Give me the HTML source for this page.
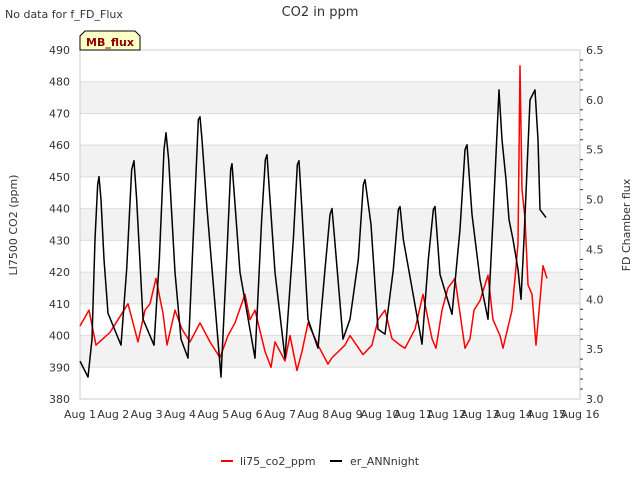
<!DOCTYPE html>
<html><head><meta charset="utf-8"><style>
body{margin:0;background:#fff;font-family:"Liberation Sans",sans-serif}
svg text{font-family:"DejaVu Sans","Liberation Sans",sans-serif;fill:#333}
</style></head><body>
<svg width="640" height="480" viewBox="0 0 640 480">
<text x="5" y="18" font-size="11">No data for f_FD_Flux</text>
<text x="320" y="16" font-size="13" text-anchor="middle" fill="#444">CO2 in ppm</text>
<g id="bands"></g>
<g id="grid"></g>
<rect x="80" y="50" width="500" height="349" fill="none" stroke="#ccc"/>
<g id="axes"></g>
<polyline id="red" fill="none" stroke="#f00" stroke-width="1.5" stroke-linejoin="round"/>
<polyline id="black" fill="none" stroke="#000" stroke-width="1.5" stroke-linejoin="round"/>
<g>
<path d="M80,50 L80,36 L85,31 L135,31 L140,36 L140,50 Z" fill="#ffffc8" stroke="#000" stroke-width="1"/>
<text x="110" y="46" font-size="11" font-weight="bold" text-anchor="middle" style="fill:#8b0000">MB_flux</text>
</g>
<text transform="translate(17,225) rotate(-90)" font-size="11" text-anchor="middle">LI7500 CO2 (ppm)</text>
<text transform="translate(630,225) rotate(-90)" font-size="11" text-anchor="middle">FD Chamber flux</text>
<g>
<line x1="221" y1="461" x2="233" y2="461" stroke="#f00" stroke-width="2"/>
<text x="240" y="465" font-size="11">li75_co2_ppm</text>
<line x1="330" y1="461" x2="342" y2="461" stroke="#000" stroke-width="2"/>
<text x="350" y="465" font-size="11">er_ANNnight</text>
</g>
</svg>
<script>
const xTickLabels=["Aug 1","Aug 2","Aug 3","Aug 4","Aug 5","Aug 6","Aug 7","Aug 8","Aug 9","Aug 10","Aug 11","Aug 12","Aug 13","Aug 14","Aug 15","Aug 16"];
const leftTicks=[380,390,400,410,420,430,440,450,460,470,480,490];
const rightTicks=["3.0","3.5","4.0","4.5","5.0","5.5","6.0","6.5"];
const redDays=[0,.27,.48,.9,1.14,1.44,1.74,1.95,2.1,2.28,2.49,2.61,2.85,3.06,3.3,3.6,3.9,4.2,4.44,4.65,4.95,5.1,5.25,5.55,5.73,5.85,6.15,6.3,6.51,6.66,6.84,7.14,7.44,7.56,7.95,8.1,8.49,8.76,8.94,9.15,9.36,9.6,9.75,10.05,10.29,10.56,10.68,10.86,11.04,11.25,11.55,11.7,11.82,12,12.24,12.39,12.6,12.69,12.78,12.96,13.05,13.14,13.2,13.26,13.35,13.44,13.56,13.68,13.74,13.89,14.01];
const redCO2=[403,408,397,401,405,410,398,408,410,418,407,397,408,402,398,404,398,393,400,404,413,405,408,395,390,398,392,400,389,395,404,397,391,393,397,400,394,397,405,408,399,397,396,402,413,399,396,408,415,418,396,399,408,411,419,405,400,396,400,408,418,429,485,446,437,416,413,397,404,422,418];
const blackDays=[0,.24,.36,.45,.53,.57,.63,.72,.84,1.23,1.4,1.55,1.62,1.7,1.89,2.22,2.38,2.52,2.58,2.66,2.85,3.03,3.24,3.42,3.55,3.6,3.66,3.81,4.23,4.4,4.52,4.56,4.64,4.8,5.25,5.45,5.56,5.61,5.68,5.85,6.15,6.4,6.52,6.57,6.64,6.84,7.14,7.35,7.5,7.56,7.64,7.89,8.1,8.35,8.5,8.55,8.73,8.94,9.15,9.4,9.55,9.6,9.7,10.26,10.45,10.6,10.65,10.8,11.16,11.4,11.55,11.61,11.76,12,12.24,12.39,12.57,12.66,12.78,12.87,12.99,13.14,13.23,13.32,13.5,13.65,13.74,13.8,13.98];
const blackFlux=[3.38,3.22,3.6,4.6,5.15,5.23,5.0,4.4,3.86,3.54,4.3,5.3,5.39,5.0,3.8,3.54,4.4,5.5,5.67,5.4,4.27,3.6,3.41,4.8,5.8,5.83,5.6,4.91,3.22,4.4,5.3,5.36,5.0,4.27,3.41,4.8,5.4,5.45,5.1,4.27,3.41,4.6,5.35,5.39,5.0,3.8,3.51,4.3,4.85,4.91,4.6,3.6,3.8,4.4,5.15,5.2,4.75,3.7,3.65,4.3,4.9,4.93,4.6,3.55,4.4,4.9,4.93,4.25,3.85,4.7,5.5,5.55,4.85,4.2,3.8,4.8,6.1,5.6,5.2,4.8,4.6,4.3,4.0,4.6,6.0,6.1,5.6,4.9,4.82];
const X0=80,X1=580,YT=50,YB=399;
const xs=d=>X0+d*(X1-X0)/15;
const yL=v=>YB-(v-380)*(YB-YT)/110;
const yR=v=>YB-(v-3)*(YB-YT)/3.5;
const NS="http://www.w3.org/2000/svg";
function mk(tag,attrs,parent){const e=document.createElementNS(NS,tag);for(const k in attrs)e.setAttribute(k,attrs[k]);document.getElementById(parent).appendChild(e);return e;}
[[470,480],[450,460],[430,440],[410,420],[390,400]].forEach(b=>{
const r=mk('rect',{x:X0,y:yL(b[1]),width:X1-X0,height:yL(b[0])-yL(b[1]),fill:'#f2f2f2'},'bands');


});
leftTicks.forEach(v=>{
const l=mk('line',{x1:X0,x2:X1,y1:yL(v),y2:yL(v),stroke:'#ddd'},'grid');


const t=mk('text',{x:70,y:yL(v)+4,'font-size':11,'text-anchor':'end'},'axes');
t.textContent=v;


});
rightTicks.forEach(v=>{
const t=mk('text',{x:586,y:yR(+v)+4,'font-size':11},'axes');
t.textContent=v;


});
for(let i=0;i<=35;i++){const v=3+i*0.1;
const l=mk('line',{x1:X1,x2:X1-(i%5==0?0:-3),y1:yR(v),y2:yR(v),stroke:'#333'},'axes');

}
xTickLabels.forEach((s,i)=>{
const t=mk('text',{x:xs(i),y:418,'font-size':11,'text-anchor':'middle'},'axes');
t.textContent=s;


});
document.getElementById('red').setAttribute('points',redDays.map((d,i)=>xs(d)+','+yL(redCO2[i])).join(' '));
document.getElementById('black').setAttribute('points',blackDays.map((d,i)=>xs(d)+','+yR(blackFlux[i])).join(' '));
</script>
</body></html>
